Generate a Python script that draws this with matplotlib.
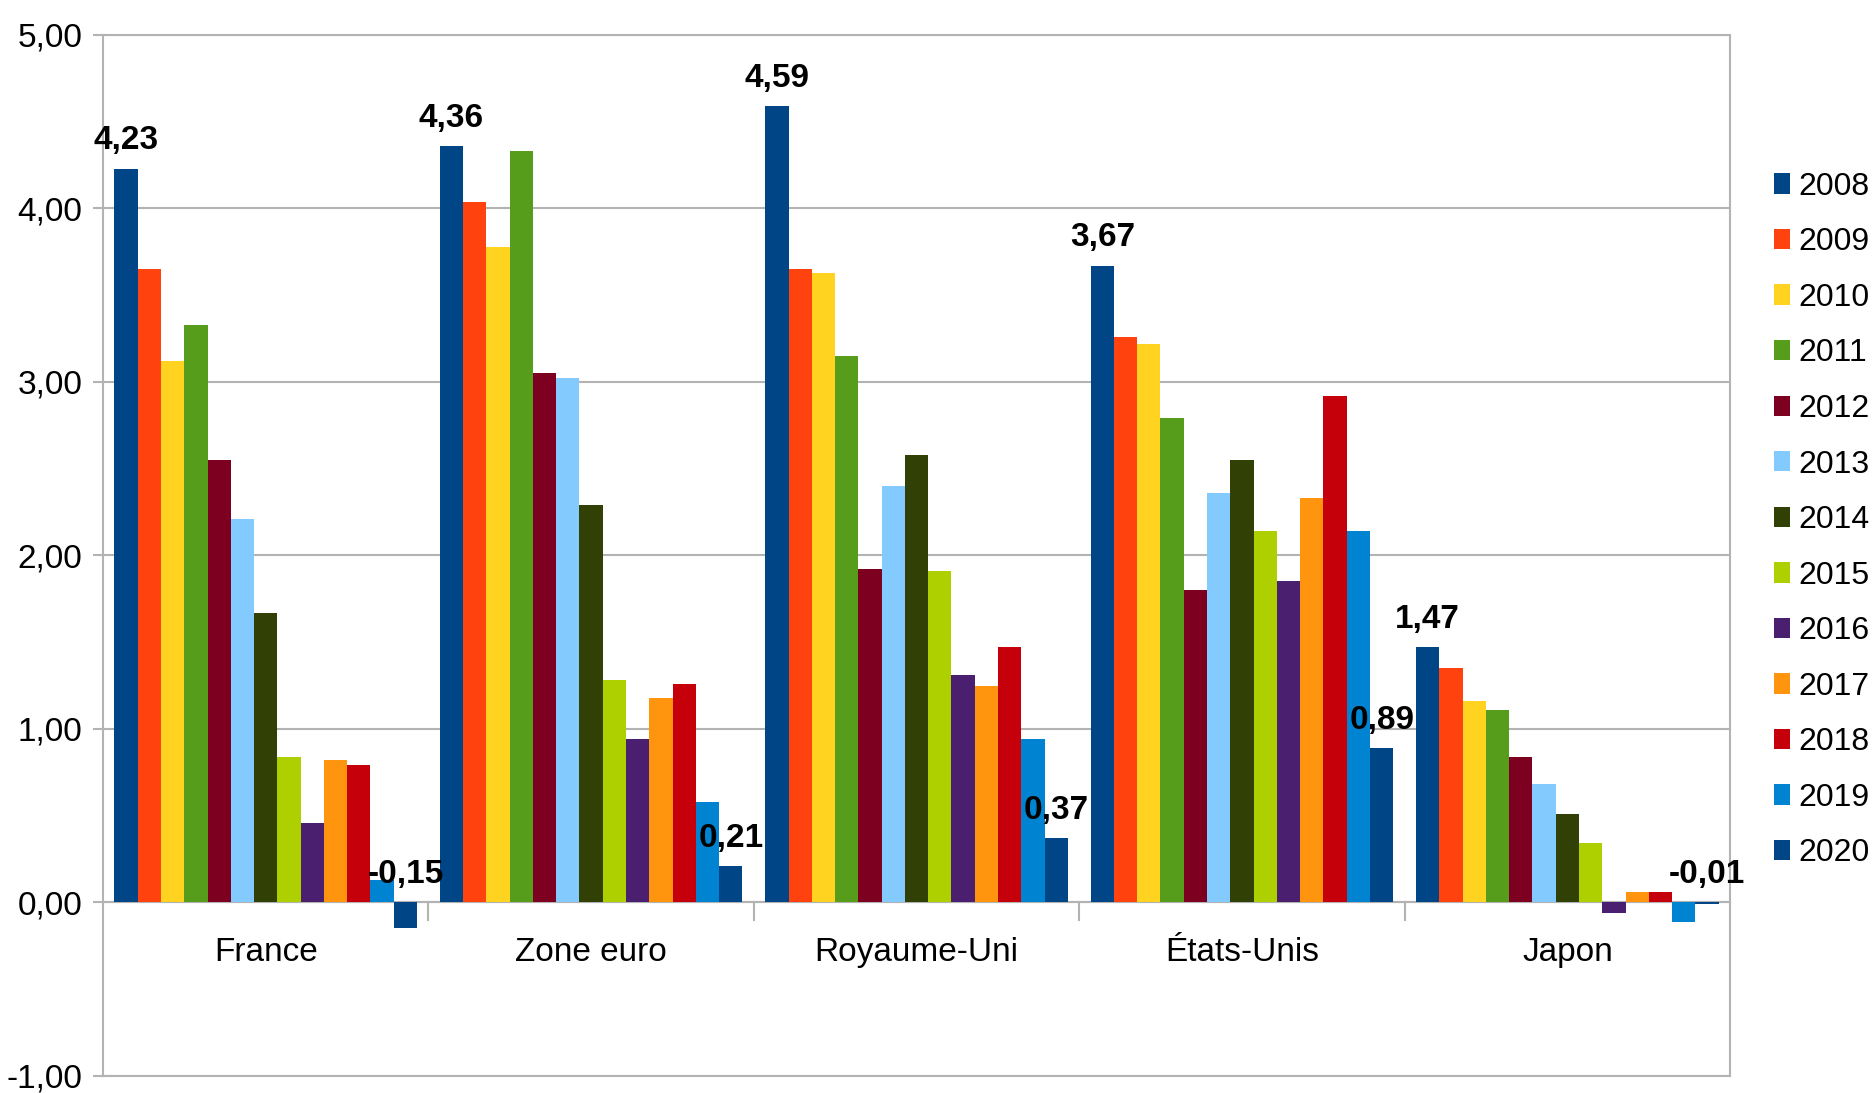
import numpy as np
import matplotlib
matplotlib.use("Agg")
import matplotlib.pyplot as plt
from matplotlib.patches import Patch
from matplotlib import font_manager

# Data
countries = ["France", "Zone euro", "Royaume-Uni", "États-Unis", "Japon"]
years = [str(y) for y in range(2008, 2021)]

france = [4.23, 3.65, 3.12, 3.33, 2.55, 2.21, 1.67, 0.84, 0.46, 0.82, 0.79, 0.13, -0.15]
zone_euro = [4.36, 4.04, 3.78, 4.33, 3.05, 3.02, 2.29, 1.28, 0.94, 1.18, 1.26, 0.58, 0.21]
royaume_uni = [4.59, 3.65, 3.63, 3.15, 1.92, 2.40, 2.58, 1.91, 1.31, 1.25, 1.47, 0.94, 0.37]
etats_unis = [3.67, 3.26, 3.22, 2.79, 1.80, 2.36, 2.55, 2.14, 1.85, 2.33, 2.92, 2.14, 0.89]
japon = [1.47, 1.35, 1.16, 1.11, 0.84, 0.68, 0.51, 0.34, -0.06, 0.06, 0.06, -0.11, -0.01]

colors = ["#004586", "#ff420e", "#ffd320", "#579d1c", "#7e0021", "#83caff",
          "#314004", "#aecf00", "#4b1f6f", "#ff950e", "#c5000b", "#0084d1", "#004586"]

# pick a narrow font if available
installed = {f.name for f in font_manager.fontManager.ttflist}
family = "Liberation Sans Narrow" if "Liberation Sans Narrow" in installed else "Liberation Sans"
plt.rcParams["font.family"] = [family, "DejaVu Sans"]
FS = 24

values = np.array([france, zone_euro, royaume_uni, etats_unis, japon])  # countries x years

fig = plt.figure(figsize=(18.73, 10.93), dpi=100)
ax = fig.add_axes([0.055, 0.0156, 0.8687, 0.9524])

n_years = len(years)
group_w = 0.93
bar_w = group_w / n_years
x = np.arange(len(countries))

for i, yr in enumerate(years):
    pos = x - group_w / 2 + bar_w * (i + 0.5)
    ax.bar(pos, values[:, i], width=bar_w, color=colors[i], zorder=3, linewidth=0)

# value labels on first and last year
for j in range(len(countries)):
    for i in (0, n_years - 1):
        v = values[j, i]
        pos = x[j] - group_w / 2 + bar_w * (i + 0.5)
        ax.annotate(f"{v:.2f}".replace(".", ","), (pos, max(v, 0)),
                    xytext=(0, 9), textcoords="offset points",
                    ha="center", va="bottom", fontsize=FS, fontweight="bold", zorder=5)

ax.set_xlim(-0.5, len(countries) - 0.5)
ax.set_ylim(-1, 5)
ax.set_yticks(np.arange(-1, 6, 1))
ax.set_yticklabels([f"{t:.2f}".replace(".", ",") for t in np.arange(-1, 6, 1)], fontsize=FS)
ax.yaxis.grid(True, color="#b3b3b3", linewidth=1.5, zorder=0)
ax.tick_params(axis="y", length=7, color="#b3b3b3", width=1.5, pad=8)

# x axis sits on zero, with small ticks between groups
ax.set_xticks([])
ax.axhline(0, color="#b3b3b3", linewidth=1.5, zorder=2)
for b in np.arange(0.5, len(countries) - 0.5, 1):
    ax.plot([b, b], [0, -0.1], color="#b3b3b3", linewidth=1.5, zorder=2)
for j, name in enumerate(countries):
    ax.text(x[j], -0.29, name, ha="center", va="center", fontsize=FS)

for s in ax.spines.values():
    s.set_color("#b3b3b3")
    s.set_linewidth(1.5)

handles = [Patch(facecolor=c, edgecolor="none") for c in colors]
ax.legend(handles, years, loc="center left", bbox_to_anchor=(1.027, 0.534),
          frameon=False, fontsize=23, handlelength=0.5, handleheight=0.6,
          handletextpad=0.25, labelspacing=0.8, borderpad=0, borderaxespad=0)

fig.savefig("out.png", dpi=100)
